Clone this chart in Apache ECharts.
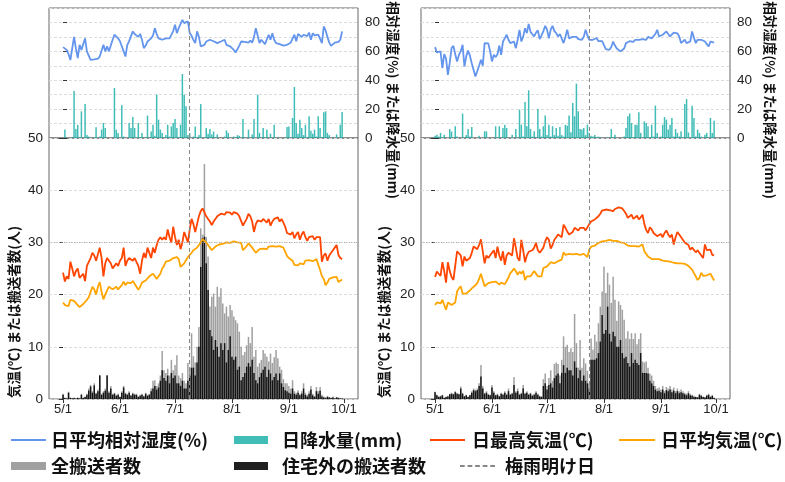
<!DOCTYPE html>
<html>
<head>
<meta charset="utf-8">
<script src="https://cdn.jsdelivr.net/npm/echarts@6/dist/echarts.min.js"></script>
<style>html,body{margin:0;padding:0;background:#fff;}#c{width:785px;height:482px;}</style>
</head>
<body>
<div id="c"></div>
<script>
// ---- tick labels (day index from 5/1) ----
const tickDays = [0, 31, 61, 92, 123, 153];
const tickLabels = ['5/1', '6/1', '7/1', '8/1', '9/1', '10/1'];

// ---- rainy season end (day index) ----
const rainEndLeft = 69;
const rainEndRight = 84;

// ================= LEFT PANEL =================
const precipL = [
0,5.8,0,0,0,0.5,32.6,6.2,9.2,0.5,
18.5,0,23.5,2.0,1.0,0,0,0.5,7.4,0,
1.0,5.8,10.4,6.9,0,0,0,0,34.6,5.8,
3.5,0,22.6,1.0,0,0,10.4,6.9,14.5,6.9,
0,10.4,0.5,3.5,0,0.5,15.5,0,4.5,9.2,
1.5,30.0,12.7,5.8,3.5,0,2.0,9.2,1.0,8.0,
10.4,13.2,6.9,0.5,9.2,44.3,30.0,21.9,2.0,3.5,
0,1.0,8.0,0.5,2.0,23.5,0,0.5,6.9,3.0,
6.2,2.5,4.5,0.5,2.5,0,0,0,1.0,5.3,
3.5,0,0,1.0,0.5,2.0,1.5,0,13.2,0.5,
0,5.8,0,2.5,13.2,0,30.0,3.5,0,6.9,
0.5,5.8,0,3.0,0,9.2,0,0.5,0,0,
0,0.5,7.6,8.0,0,13.9,35.3,10.4,3.0,12.7,
6.9,2.0,9.2,0.5,15.0,5.0,3.0,5.8,1.0,15.0,
6.9,0.5,17.8,18.5,3.5,2.0,0,0.5,0,2.5,0,9.2,18.0];
const humidL = [
62.9,62.0,61.0,58.0,54.0,62.0,70.0,62.0,55.3,64.5,
61.0,60.0,69.0,60.0,58.8,54.1,53.5,54.5,55.3,55.0,
56.4,56.0,64.5,60.0,63.4,60.0,64.0,68.0,71.5,70.5,
69.0,67.0,65.7,60.0,56.4,64.5,67.0,70.5,73.8,72.0,
71.5,70.0,72.1,68.0,62.2,64.0,66.8,65.5,69.0,71.0,
76.0,72.0,69.0,70.0,68.0,66.8,69.0,70.3,69.0,68.0,
74.0,78.4,72.6,76.0,77.0,81.8,79.5,79.0,80.7,72.6,
70.8,68.0,65.7,73.8,70.0,63.4,63.0,64.5,66.8,67.5,
68.0,67.5,67.0,66.0,65.7,66.5,66.8,66.0,68.0,64.5,
65.0,63.4,62.5,61.0,59.2,60.5,64.0,66.8,66.0,66.5,
65.7,66.0,67.5,66.0,70.0,76.0,71.0,65.7,68.0,66.8,
65.0,64.5,71.5,68.0,72.5,68.0,65.7,66.0,65.0,64.5,
64.0,63.4,64.5,65.0,66.0,65.5,71.5,67.0,72.0,73.0,
70.0,71.5,72.0,70.5,73.0,68.0,72.5,71.0,70.5,71.5,
72.0,65.7,77.2,74.5,70.0,66.0,63.8,64.5,66.0,67.0,66.5,68.0,73.8];
const tmaxL = [
24.2,22.5,23.5,23.0,26.3,25.0,23.5,24.5,25.0,23.2,
23.0,24.0,22.6,25.5,25.5,27.0,28.0,27.5,26.5,26.8,
29.0,27.0,23.5,26.0,27.0,26.5,26.0,25.0,25.5,26.0,
25.5,26.5,27.0,29.0,25.5,26.5,27.0,27.0,26.5,27.0,
27.0,25.5,24.0,26.5,28.0,27.0,29.0,28.0,27.0,29.0,
28.0,29.5,30.5,31.0,30.5,31.0,30.5,32.5,31.0,30.0,
33.0,31.0,29.5,30.5,28.7,30.0,32.0,31.0,30.0,32.5,
34.5,33.5,32.0,33.5,35.0,36.0,36.5,36.3,35.0,34.5,
34.0,33.3,34.0,34.5,35.0,35.0,35.5,35.5,35.3,35.8,
35.5,35.7,35.3,35.8,35.5,35.5,35.0,35.2,33.2,33.0,
34.5,35.5,35.0,34.0,32.0,33.5,34.2,34.3,34.0,34.5,
34.2,33.8,34.5,33.2,34.0,34.5,34.3,34.8,34.0,34.5,
33.8,33.0,31.8,32.0,31.5,32.0,30.8,31.5,32.0,30.5,
31.5,32.1,31.0,30.3,31.0,30.8,31.2,30.5,31.0,30.8,
31.0,26.3,27.5,27.9,26.5,27.5,28.0,28.5,29.0,29.5,27.6,27.0,26.8];
const tavgL = [
18.5,18.0,18.3,17.8,19.0,18.8,18.8,18.5,18.0,17.6,
17.6,18.2,18.0,19.0,19.5,20.5,21.5,21.0,20.0,21.5,
22.4,20.5,19.1,20.0,20.8,21.5,21.3,21.0,21.2,21.5,
21.0,21.3,21.8,22.5,21.8,22.3,22.5,22.2,22.6,22.3,
21.5,20.9,21.5,22.3,22.0,22.7,23.0,23.5,23.8,24.0,
23.5,23.0,23.3,24.0,25.0,25.5,26.3,26.0,26.5,26.8,
27.0,26.8,27.2,26.8,25.3,25.5,26.0,25.8,27.2,27.5,
28.0,28.5,28.3,29.0,29.5,30.0,30.6,30.5,30.0,29.5,
29.0,28.5,28.8,29.2,29.4,29.6,29.8,29.7,29.9,30.0,
29.8,29.9,30.0,30.2,30.3,30.0,29.7,29.9,28.5,28.8,
29.3,29.8,29.5,29.0,28.5,28.0,28.2,28.7,29.0,28.8,
29.0,28.7,29.2,28.9,29.3,29.6,29.2,29.0,29.3,29.5,
29.0,28.2,27.4,27.0,27.2,26.5,25.7,25.8,25.6,26.0,
26.0,25.8,26.5,26.3,26.6,26.7,26.4,26.6,26.8,26.5,
24.7,23.5,23.0,21.8,22.3,23.0,23.2,23.3,23.2,23.4,22.4,22.6,22.9];
const allL = [
1.0,0.3,0.2,1.4,0.3,0.2,0.3,0.1,0.3,0.2,
1.0,0.3,0.5,1.0,2.0,2.7,1.5,3.0,1.2,1.8,
4.6,1.0,1.5,2.0,4.6,1.5,2.5,1.0,1.2,0.8,
1.0,0.5,1.5,2.5,1.2,1.0,1.5,0.8,1.2,1.0,
1.0,0.5,0.8,1.0,0.6,1.2,0.8,1.0,2.0,3.5,
3.6,2.5,3.0,4.5,9.2,5.5,5.0,5.8,4.5,7.5,
5.5,6.5,8.4,4.5,4.0,5.0,3.5,3.0,6.9,6.0,
12.6,8.2,7.0,10.0,13.8,32.7,31.5,45.0,31.0,27.3,
17.7,19.6,20.2,17.7,21.5,19.6,21.2,18.3,16.4,17.7,
15.8,18.0,17.0,15.8,15.1,14.5,12.9,10.0,8.4,9.0,
10.3,11.9,10.7,13.8,8.1,9.4,6.2,6.9,7.5,9.4,
8.7,8.1,7.2,8.7,6.9,8.0,9.4,7.8,6.2,5.6,
3.8,3.0,3.0,2.5,2.0,3.6,1.5,1.2,1.7,1.0,
1.5,3.0,1.2,0.8,1.5,2.5,1.0,0.6,2.3,1.5,
2.3,0.8,0.5,0.3,0.6,0.4,0.3,0.5,0.2,0.4,0.3,0.1,0.2];
const outL = [
0.8,0.2,0.1,1.2,0.2,0.1,0.2,0.1,0.2,0.1,
0.8,0.2,0.4,0.8,1.6,2.4,1.2,2.6,1.0,1.5,
4.5,0.8,1.2,1.6,4.5,1.2,2.0,0.8,1.0,0.6,
0.8,0.4,1.2,2.2,1.0,0.8,1.2,0.6,1.0,0.8,
0.8,0.4,0.6,0.8,0.5,1.0,0.6,0.8,1.5,2.0,
2.5,1.8,2.2,3.5,5.5,4.0,3.5,4.5,3.0,5.0,
4.0,4.5,3.0,3.0,2.5,3.5,2.0,2.0,3.5,4.5,
6.0,6.0,4.5,7.0,10.0,25.3,30.8,31.1,26.0,20.9,
13.2,12.0,9.4,11.3,10.0,8.1,10.7,9.4,10.7,7.0,
9.4,12.0,8.1,7.5,8.1,5.6,6.2,3.6,4.2,5.0,
6.2,6.9,6.2,7.5,5.0,3.6,3.0,4.2,5.0,5.6,
6.2,4.2,5.6,4.9,3.6,4.2,4.9,3.6,4.9,3.0,
2.3,1.7,1.5,1.2,1.0,2.0,1.0,0.8,1.2,0.7,
1.0,2.0,0.8,0.5,1.0,1.8,0.7,0.4,1.5,1.0,
1.6,0.5,0.3,0.2,0.4,0.3,0.2,0.3,0.1,0.3,0.2,0.1,0.1];

// ================= RIGHT PANEL =================
const precipR = [
1.5,2.3,1.0,3.5,0.5,2.3,0,0,6.2,4.5,
0,8.1,1.0,0,0,16.9,0,2.0,6.2,1.0,
7.6,0,0,0,1.5,0,0,4.6,4.6,0,
0,0,0,8.1,0.5,8.1,0,6.9,9.2,6.9,
0,0,2.3,0,6.2,0,19.6,9.2,1.0,24.9,
8.1,33.0,6.2,1.0,4.6,0.5,20.1,6.2,1.0,8.1,
15.5,2.0,9.2,1.0,8.1,2.0,6.9,1.5,7.6,2.0,
1.0,9.2,8.5,15.5,4.0,24.2,15.0,37.6,18.5,6.2,
5.8,6.9,2.0,9.2,3.5,1.5,1.0,2.0,0.5,1.0,
0.5,0,0,0,0.5,0,6.2,0.5,2.3,0,
0,0,0,1.0,6.9,15.0,16.9,10.4,0.5,9.2,
9.2,17.8,3.5,0,11.5,10.4,8.1,0.5,9.2,1.0,
22.4,3.5,0,1.0,9.2,14.5,12.7,5.8,9.2,13.9,
1.0,6.2,3.5,1.0,4.6,0.5,23.5,27.0,3.8,0,
22.4,13.9,1.0,5.8,3.5,1.0,0,2.3,3.5,0,13.9,3.5,12.0];
const humidR = [
62.9,59.2,59.5,59.9,48.4,58.0,55.0,43.7,52.0,62.2,
63.8,58.0,53.0,57.5,60.0,64.5,49.5,56.5,60.6,57.0,
51.8,47.0,42.6,42.8,50.0,54.1,50.0,65.7,66.0,65.5,
60.0,53.0,57.6,56.0,58.0,64.0,57.6,66.8,69.0,71.5,
68.0,65.7,67.0,66.8,62.2,68.0,74.9,66.8,70.0,76.0,
72.6,79.0,73.5,72.6,70.3,73.0,74.5,68.5,71.0,74.0,
77.7,75.0,69.0,75.0,77.7,74.0,72.6,70.3,72.0,71.5,
65.7,70.0,75.0,69.0,68.0,70.0,70.8,70.0,68.5,69.0,
68.0,70.0,74.9,71.0,68.0,68.0,68.0,69.0,69.2,67.0,
65.7,67.0,66.5,61.5,61.0,61.0,63.0,66.8,64.0,62.0,
61.0,60.0,59.2,62.0,65.7,66.5,67.0,67.5,66.5,68.0,
67.0,68.0,69.0,68.5,69.5,68.0,70.0,70.3,69.0,68.0,
72.0,74.9,70.3,71.0,71.5,72.0,73.8,72.0,70.3,71.0,
73.0,73.8,72.5,70.3,65.7,67.0,68.0,65.7,67.0,66.8,
73.8,69.5,65.7,68.0,69.0,68.0,67.5,66.8,65.0,63.4,66.8,67.5,66.0];
const tmaxR = [
23.4,24.4,24.0,23.6,26.2,24.5,22.3,26.2,24.5,23.4,
22.8,23.0,28.3,28.0,27.5,25.4,27.3,26.5,26.2,27.0,
28.0,29.2,29.0,28.7,29.5,30.6,30.4,26.0,27.5,27.0,
26.7,28.0,28.5,27.0,29.2,27.5,26.5,28.3,25.7,27.5,
28.0,28.0,27.5,30.8,29.0,27.0,26.5,30.5,28.5,26.2,
27.5,28.2,28.0,28.5,29.0,29.9,28.5,28.0,28.5,29.0,
30.2,31.0,30.5,28.8,29.5,30.5,31.0,31.5,31.2,31.0,
33.4,32.8,32.1,31.5,31.5,32.0,32.8,32.5,32.3,32.8,
32.5,32.8,32.3,32.1,33.5,34.0,34.3,34.4,34.5,35.0,
35.5,36.1,36.0,36.3,36.0,36.2,36.0,36.0,36.4,36.5,
36.7,37.0,36.5,36.0,35.5,34.7,35.0,35.3,34.5,34.8,
35.1,34.4,34.8,35.3,33.5,32.4,31.8,32.9,32.5,31.8,
31.5,31.2,31.5,31.6,31.0,31.8,32.3,31.5,31.0,31.5,
29.6,31.0,32.0,31.5,31.2,30.5,30.0,29.8,29.5,28.6,
29.0,28.8,28.1,28.5,28.3,27.5,27.0,29.6,28.5,28.8,28.6,27.6,27.5];
const tavgR = [
18.0,18.5,18.7,18.3,19.0,18.0,17.1,18.5,18.2,18.0,
17.8,18.5,20.6,21.2,21.6,20.2,20.0,20.2,20.3,20.8,
21.2,21.5,21.8,22.2,23.0,24.0,24.0,21.6,21.8,22.2,
22.5,22.4,22.3,22.5,22.6,21.9,22.3,22.5,22.0,22.6,
23.3,24.1,24.5,25.0,24.5,23.8,24.4,24.0,24.6,22.8,
23.5,23.8,23.5,24.0,24.5,24.6,23.5,23.8,23.5,25.1,
25.0,25.4,25.8,26.2,26.5,26.0,26.3,26.4,26.5,26.7,
28.1,27.6,27.3,27.8,28.0,27.7,27.4,27.8,28.0,27.6,
27.5,27.8,27.6,27.2,28.6,29.2,29.3,29.4,29.6,29.9,
30.0,30.2,30.4,30.3,30.2,30.5,30.4,30.3,30.4,30.3,
30.2,30.0,30.1,29.9,29.7,29.4,29.5,29.3,29.4,29.3,
29.2,29.2,29.5,29.6,28.3,27.8,27.3,27.0,26.8,26.9,
26.8,26.7,26.8,26.6,26.5,26.6,26.4,26.5,26.3,26.2,
26.1,26.2,26.0,25.9,26.0,25.8,25.9,25.6,25.5,25.4,
24.8,24.1,23.5,22.8,23.2,24.2,23.6,23.4,23.7,24.0,24.0,23.8,22.7];
const allR = [
1.4,0.8,0.5,0.6,0.8,0.3,0.5,0.6,1.0,1.2,
1.0,1.5,1.2,1.0,2.4,1.2,0.6,0.8,0.5,0.8,
1.5,2.0,1.8,2.0,3.0,6.5,2.5,1.2,1.5,1.0,
0.8,2.7,1.5,0.8,1.0,0.6,1.2,1.0,1.5,1.0,
2.0,1.0,1.2,4.2,1.5,2.0,1.0,1.2,2.7,1.2,
1.5,1.0,1.2,0.8,1.0,1.5,1.0,0.6,0.5,3.8,
4.9,2.5,4.0,5.5,3.5,6.7,7.0,6.7,4.5,7.5,
12.0,10.0,10.4,9.0,9.7,9.0,16.3,10.7,6.0,11.3,
6.0,7.8,6.8,5.4,3.0,11.6,9.5,12.3,11.0,14.5,
17.7,20.6,25.4,20.3,24.2,21.9,18.4,23.4,19.0,15.0,
18.7,18.0,17.1,15.2,11.6,13.0,11.5,12.6,11.5,12.6,
10.5,11.5,12.6,7.2,7.0,7.2,6.0,4.9,4.5,3.5,
2.5,2.0,2.2,1.8,2.5,1.5,2.3,2.0,2.5,1.8,
2.2,1.5,2.0,1.5,1.8,1.5,1.2,1.0,1.5,1.0,
0.8,0.6,0.5,0.4,1.0,0.8,0.5,0.4,0.8,1.0,0.5,0.8,0.3];
const outR = [
1.3,0.7,0.4,0.5,0.7,0.2,0.4,0.5,0.9,1.0,
0.9,1.3,1.0,0.9,2.0,1.0,0.5,0.7,0.4,0.7,
1.2,1.7,1.5,1.7,2.5,4.3,2.0,1.0,1.2,0.8,
0.7,2.2,1.2,0.7,0.8,0.5,1.0,0.8,1.2,0.8,
1.5,0.8,1.0,2.7,1.2,1.5,0.8,1.0,2.0,1.0,
1.2,0.8,1.0,0.6,0.8,1.2,0.8,0.5,0.4,2.5,
3.0,1.8,2.7,3.0,2.2,4.0,4.5,4.9,3.0,5.0,
6.5,5.0,6.0,5.5,5.5,4.5,7.2,6.0,4.0,5.5,
3.5,4.5,3.5,3.0,2.0,7.5,7.5,7.5,7.8,8.8,
11.0,16.1,12.5,13.2,17.7,12.5,11.0,12.9,12.0,10.0,
10.0,11.3,8.8,7.8,8.1,6.9,6.2,8.8,6.9,7.5,
6.9,6.5,8.8,5.0,5.0,5.0,4.9,3.5,3.0,2.5,
1.8,1.5,1.6,1.3,1.8,1.1,1.7,1.5,1.8,1.3,
1.6,1.1,1.5,1.1,1.3,1.1,0.9,0.7,1.1,0.7,
0.6,0.4,0.4,0.3,0.8,0.6,0.4,0.3,0.6,0.8,0.4,0.6,0.2];

// ---- names ----
const N_HUM = '日平均相対湿度(%)', N_PRE = '日降水量(mm)', N_TMAX = '日最高気温(℃)',
      N_TAVG = '日平均気温(℃)', N_ALL = '全搬送者数', N_OUT = '住宅外の搬送者数', N_END = '梅雨明け日';

const C_HUM = '#6495ED', C_PRE = 'rgba(32,178,170,0.85)', C_TMAX = '#FF4500', C_TAVG = '#FFA500',
      C_ALL = 'rgba(128,128,128,0.75)', C_OUT = 'rgba(0,0,0,0.88)', C_END = '#888888';

const NUMFONT = "'Liberation Sans', 'Noto Sans CJK JP', sans-serif";
const JPFONT = "'Noto Sans CJK JP', sans-serif";
const XMIN = -7.65, XMAX = 160.65;
const xy = arr => arr.map((v, i) => [i, v]);

const panels = [{left: 49, end: rainEndLeft, d: [precipL, humidL, tmaxL, tavgL, allL, outL]},
                {left: 421, end: rainEndRight, d: [precipR, humidR, tmaxR, tavgR, allR, outR]}];
const W = 309, TOP = 8, TH = 130, BTOP = 138, BH = 261;

const grid = [], xAxis = [], yAxis = [], series = [];
panels.forEach((p, k) => {
  grid.push({left: p.left, top: TOP, width: W, height: TH, show: true, borderColor: '#666', borderWidth: 1});
  grid.push({left: p.left, top: BTOP, width: W, height: BH, show: true, borderColor: '#666', borderWidth: 1});
  const gt = 2 * k, gb = 2 * k + 1;
  xAxis.push({type: 'value', gridIndex: gt, min: XMIN, max: XMAX, show: false});
  xAxis.push({type: 'value', gridIndex: gb, min: XMIN, max: XMAX,
    axisLine: {show: false}, splitLine: {show: false},
    axisTick: {show: true, customValues: tickDays, length: 4, lineStyle: {color: '#333'}},
    axisLabel: {show: true, customValues: tickDays, margin: 4, fontSize: 13, fontFamily: NUMFONT, color: '#222',
      formatter: v => tickLabels[tickDays.indexOf(v)] || ''}});
  const yTop = yAxis.length;
  yAxis.push({type: 'value', gridIndex: gt, position: 'right', min: 0, max: 90, interval: 10,
    axisLine: {show: false}, splitLine: {show: false},
    axisTick: {show: true, customValues: [0, 20, 40, 60, 80], length: 4, lineStyle: {color: '#333'}},
    axisLabel: {show: true, customValues: [0, 20, 40, 60, 80], margin: 7, fontSize: 13.5, fontFamily: NUMFONT, color: '#222'}});
  yAxis.push({type: 'value', gridIndex: gt, position: 'right', min: 0, max: 90, interval: 10,
    axisLine: {show: false}, axisTick: {show: false}, axisLabel: {show: false},
    splitLine: {show: true, lineStyle: {color: '#dcdcdc', type: [3, 2], width: 1}}});
  const yBot = yAxis.length;
  yAxis.push({type: 'value', gridIndex: gb, position: 'left', min: 0, max: 50, interval: 10,
    axisLine: {show: false},
    axisTick: {show: true, length: 4, lineStyle: {color: '#333'}},
    axisLabel: {show: true, margin: 6, fontSize: 13.5, fontFamily: NUMFONT, color: '#222'},
    splitLine: {show: true, lineStyle: {color: '#dcdcdc', type: [3, 2], width: 1}}});

  const [pre, hum, tmax, tavg, all, out] = p.d;
  const endLine = {silent: true, symbol: 'none', label: {show: false},
    lineStyle: {color: C_END, type: [4, 3], width: 1}, data: [{xAxis: p.end}]};
  series.push({name: N_PRE, type: 'bar', xAxisIndex: gt, yAxisIndex: yTop, data: xy(pre),
    barWidth: 1.5, barGap: '-100%', itemStyle: {color: C_PRE}, color: C_PRE, animation: false});
  series.push({name: N_HUM, type: 'line', xAxisIndex: gt, yAxisIndex: yTop, data: xy(hum),
    showSymbol: false, symbol: 'none', lineStyle: {color: C_HUM, width: 1.8}, color: C_HUM, animation: false,
    markLine: endLine});
  series.push({name: N_ALL, type: 'bar', xAxisIndex: gb, yAxisIndex: yBot, data: xy(all),
    barWidth: 1.5, barGap: '-100%', itemStyle: {color: C_ALL}, color: C_ALL, animation: false});
  series.push({name: N_OUT, type: 'bar', xAxisIndex: gb, yAxisIndex: yBot, data: xy(out),
    barWidth: 1.5, barGap: '-100%', itemStyle: {color: C_OUT}, color: C_OUT, animation: false});
  series.push({name: N_TMAX, type: 'line', xAxisIndex: gb, yAxisIndex: yBot, data: xy(tmax),
    showSymbol: false, symbol: 'none', lineStyle: {color: C_TMAX, width: 1.8}, color: C_TMAX, animation: false,
    markLine: {silent: true, symbol: 'none', label: {show: false},
      lineStyle: {color: '#aaaaaa', type: [1, 1.5], width: 1}, data: [{yAxis: 30}]}});
  series.push({name: N_TAVG, type: 'line', xAxisIndex: gb, yAxisIndex: yBot, data: xy(tavg),
    showSymbol: false, symbol: 'none', lineStyle: {color: C_TAVG, width: 1.8}, color: C_TAVG, animation: false});
  series.push({name: N_END, type: 'line', xAxisIndex: gb, yAxisIndex: yBot, data: [],
    symbol: 'none', lineStyle: {color: C_END, type: [4, 3], width: 1}, color: C_END, animation: false,
    markLine: endLine});
});

const lg = (name, left, top, icon, w, h, pad) => ({
  data: [name], left: left, top: top, padding: 0, icon: icon, itemWidth: w, itemHeight: h,
  selectedMode: false,
  textStyle: {fontSize: 18, fontWeight: 'bold', fontFamily: JPFONT, color: '#111', padding: [0, 0, 0, pad || 0]}
});
const DASH = 'path://M0,0h5v2h-5z M8,0h5v2h-5z M16,0h5v2h-5z M24,0h5v2h-5z M32,0h5v2h-5z';
const legend = [
  lg(N_HUM, 11, 431, 'rect', 35, 2, 0),
  lg(N_PRE, 234, 431, 'rect', 34, 8, 9),
  lg(N_TMAX, 430, 431, 'rect', 35, 2, 2),
  lg(N_TAVG, 619, 431, 'rect', 36, 2, 1),
  lg(N_ALL, 11, 457, 'rect', 35, 8, 0),
  lg(N_OUT, 234, 457, 'rect', 34, 8, 9),
  lg(N_END, 460, 457, DASH, 35, 2, 5)
];

const ttl = (text, x, y, rot) => ({type: 'text', x: x, y: y, rotation: rot, silent: true,
  style: {text: text, fontSize: 13.5, fontWeight: 'bold', fontFamily: JPFONT, fill: '#111', align: 'center', verticalAlign: 'middle'}});
const graphic = [
  ttl('気温(℃) または搬送者数(人)', 14, 312, Math.PI / 2),
  ttl('気温(℃) または搬送者数(人)', 384, 312, Math.PI / 2),
  ttl('相対湿度(%) または降水量(mm)', 393, 100, -Math.PI / 2),
  ttl('相対湿度(%) または降水量(mm)', 770, 100, -Math.PI / 2)
];

const chart = echarts.init(document.getElementById('c'), null, {renderer: 'canvas'});
chart.setOption({animation: false, backgroundColor: '#fff', grid, xAxis, yAxis, series, legend, graphic});
</script>
</body>
</html>
